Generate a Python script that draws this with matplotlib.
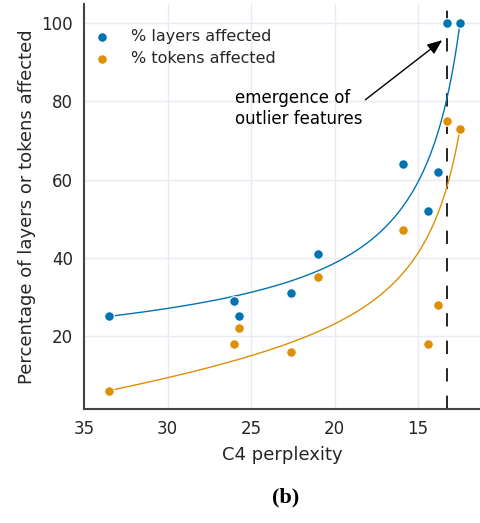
import numpy as np
import matplotlib
matplotlib.use("Agg")
import matplotlib.pyplot as plt

# C4 perplexity of each model and the share of layers / tokens with outlier features
perplexity = [33.5, 26.0, 25.7, 22.6, 21.0, 15.9, 14.4, 13.8, 13.3, 12.5]
layers_affected = [25, 29, 25, 31, 41, 64, 52, 62, 100, 100]
tokens_affected = [6, 18, 22, 16, 35, 47, 18, 28, 75, 73]

series_labels = ["% layers affected", "% tokens affected"]
series_colors = ["#0173b2", "#de8f05"]
emergence_perplexity = 13.3

x_ticks = [35, 30, 25, 20, 15]
y_ticks = [20, 40, 60, 80, 100]


def fit_trend(x, y, pole=10.0, n=300):
    """Least-squares trend y = a + b*x + c/(x - pole).
    The first and last observations are weighted heavily so the curve spans them."""
    x = np.asarray(x, float)
    y = np.asarray(y, float)
    w = np.ones_like(x)
    w[np.argmin(x)] = w[np.argmax(x)] = 1000.0
    A = np.column_stack([np.ones_like(x), x, 1.0 / (x - pole)])
    coef, *_ = np.linalg.lstsq(A * w[:, None], y * w, rcond=None)
    xs = np.linspace(x.min(), x.max(), n)
    ys = coef[0] + coef[1] * xs + coef[2] / (xs - pole)
    return xs, ys


text_color = "#262626"
fig = plt.figure(figsize=(4.8, 5.23), dpi=100)
ax = fig.add_axes([0.175, 0.218, 0.825, 0.774])

for vals, label, color in zip([layers_affected, tokens_affected], series_labels, series_colors):
    xs, ys = fit_trend(perplexity, vals)
    ax.plot(xs, ys, color=color, lw=1.0, zorder=2)
    ax.scatter(perplexity, vals, s=48, color=color, edgecolor="white",
               linewidth=0.8, zorder=3, label=label)

ax.axvline(emergence_perplexity, color="black", lw=1.2, ls=(0, (8, 8.5)), zorder=1)

ax.annotate("emergence of\noutlier features", xy=(13.56, 95.7), xytext=(25.96, 78.3),
            ha="left", va="center", fontsize=12, color="black",
            arrowprops=dict(arrowstyle="-|>,head_length=0.45,head_width=0.18",
                            color="black", lw=1.0,
                            mutation_scale=20, shrinkA=0, shrinkB=0,
                            relpos=(0.91, 0.43)))

ax.set_xlim(35, 11.3)
ax.set_ylim(1.3, 104.9)
ax.set_xticks(x_ticks)
ax.set_yticks(y_ticks)
ax.grid(True, color="#eaeaf2", lw=1.0)
ax.set_axisbelow(True)
for side in ["top", "right"]:
    ax.spines[side].set_visible(False)
for side in ["left", "bottom"]:
    ax.spines[side].set_color("#444444")
    ax.spines[side].set_linewidth(1.5)
ax.tick_params(length=0, labelsize=12, labelcolor=text_color, pad=8)
ax.set_xlabel("C4 perplexity", fontsize=13, color=text_color, labelpad=6)
ax.set_ylabel("Percentage of layers or tokens affected", fontsize=13, color=text_color)

ax.legend(loc="upper left", bbox_to_anchor=(0.009, 0.955), borderaxespad=0,
          frameon=False, fontsize=11.5, labelcolor=text_color,
          handlelength=1.0, handletextpad=1.3, labelspacing=0.47)

fig.text(0.595, 0.048, "(b)", ha="center", va="center", fontsize=16,
         fontweight="bold", family="Liberation Serif")

fig.savefig("out.png", dpi=100)
